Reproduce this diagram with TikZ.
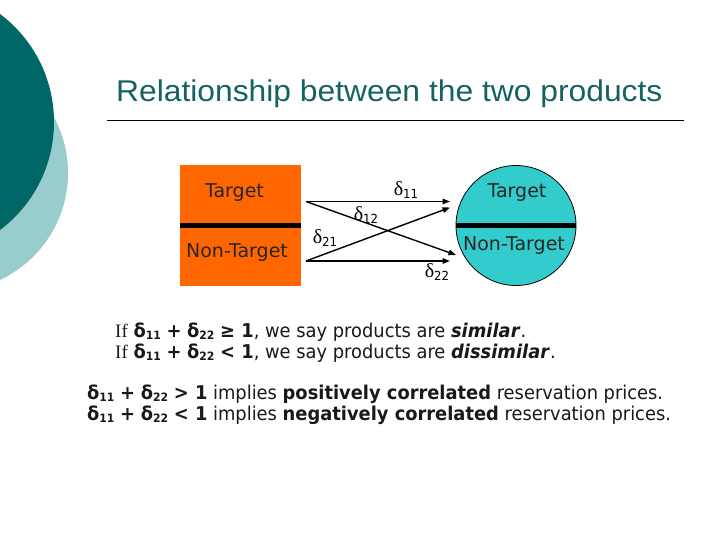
\documentclass[tikz,border=0pt]{standalone}
\usepackage{fontspec}
\setmainfont{DejaVu Sans}
\newfontfamily\titlefont[FakeStretch=1.06]{Liberation Sans}
\newfontfamily\tah[FakeStretch=0.94]{DejaVu Sans}
\newfontfamily\serf{Liberation Serif}
\usetikzlibrary{arrows.meta}
\definecolor{darkteal}{RGB}{0,102,102}
\definecolor{lightteal}{RGB}{153,204,204}
\definecolor{orangeb}{RGB}{255,102,0}
\definecolor{cyanb}{RGB}{51,204,204}
\definecolor{titlec}{RGB}{20,98,98}
\newcommand\dsym[1]{{\serf\fontsize{20}{20}\selectfont δ}\raisebox{-3.5pt}{\tah\fontsize{12.5}{12.5}\selectfont #1}}
\newcommand\bdl[1]{\textbf{δ\raisebox{-2.5pt}{\fontsize{11.5}{11.5}\selectfont\bfseries #1}}}
\begin{document}
\begin{tikzpicture}[x=1pt,y=-1pt,
  boxlabel/.style={font=\fontsize{19}{22}\selectfont, text=black!85},
  deltalabel/.style={inner sep=0pt},
  arrowline/.style={line width=1.4pt, -{Triangle[length=7.5pt,width=5.5pt]}},
  bodytext/.style={anchor=base west, inner sep=0pt, font=\tah\fontsize{19}{22}\selectfont, text=black!90},
  divider/.style={line width=5pt}]
\useasboundingbox (0,0) rectangle (720,540);
\fill[white] (0,0) rectangle (720,540);
\begin{scope}
\clip (0,0) rectangle (720,540);
\fill[lightteal] (-50,173) circle[radius=118pt];
\fill[darkteal] (-81,122) circle[radius=135pt];
\end{scope}
% title
\node[anchor=base west, inner sep=0pt, font=\titlefont\fontsize{30}{34}\selectfont, text=titlec] (title) at (116,102) {Relationship between the two products};
\coordinate (r1) at (107,120.5);
\coordinate (r2) at (684,120.5);
\draw[line width=0.8pt] (r1) -- (r2);
% orange box
\node[fill=orangeb, minimum width=121pt, minimum height=121pt, inner sep=0pt, anchor=north west] (box) at (180,165) {};
\draw[divider] (box.west) -- (box.east);
\node[boxlabel] (bt) at (234.5,193) {Target};
\node[boxlabel] (bn) at (237,253) {Non-Target};
% circle
\node[circle, fill=cyanb, draw=black, line width=0.8pt, minimum size=120pt, inner sep=0pt] (circ) at (516,225.5) {};
\draw[divider] (circ.west) -- (circ.east);
\node[boxlabel] (ct) at (517,193) {Target};
\node[boxlabel] (cn) at (514,246) {Non-Target};
% arrows
\coordinate (a1) at (306,201.5);
\coordinate (a2) at (306,261);
\coordinate (b1) at (450,201.5);
\coordinate (b1d) at (450,207.5);
\coordinate (b2) at (450,261);
\coordinate (b2d) at (456,255);
\draw[arrowline] (a1) -- (b1);
\draw[arrowline] (a1) -- (b2d);
\draw[arrowline] (a2) -- (b1d);
\draw[arrowline] (a2) -- (b2);
\node[deltalabel] (d11) at (406,190) {\dsym{11}};
\node[deltalabel] (d12) at (366,215) {\dsym{12}};
\node[deltalabel] (d21) at (325,238) {\dsym{21}};
\node[deltalabel] (d22) at (437,272) {\dsym{22}};
% body text
\node[bodytext] (l1) at (115,337) {{\serf If} \bdl{11} \textbf{+} \bdl{22} \textbf{≥ 1}, we say products are \textbf{\textit{similar}}.};
\node[bodytext] (l2) at (115,358) {{\serf If} \bdl{11} \textbf{+} \bdl{22} \textbf{< 1}, we say products are \textbf{\textit{dissimilar}}.};
\node[bodytext] (l3) at (87,399) {\bdl{11} \textbf{+} \bdl{22} \textbf{> 1} implies \textbf{positively correlated} reservation prices.};
\node[bodytext] (l4) at (87,420) {\bdl{11} \textbf{+} \bdl{22} \textbf{< 1} implies \textbf{negatively correlated} reservation prices.};
\end{tikzpicture}
\end{document}
